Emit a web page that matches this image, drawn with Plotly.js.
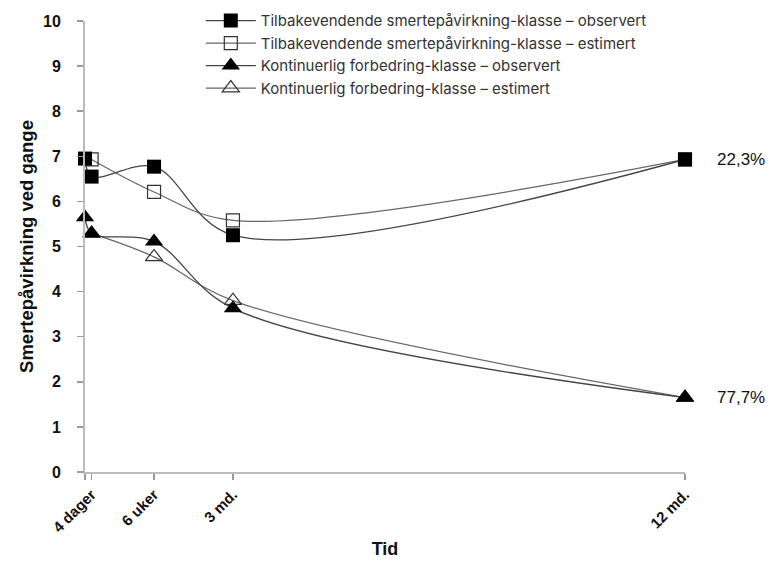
<!DOCTYPE html>
<html>
<head>
<meta charset="utf-8">
<script src="https://cdn.plot.ly/plotly-3.0.1.min.js"></script>
<style>html,body{margin:0;padding:0;background:#fff;}</style>
</head>
<body>
<div id="chart" style="width:783px;height:562px;"></div>
<script>
// Time in days after event
const daysObs = [0, 4, 42, 90, 365];
const daysEst = [4, 42, 90, 365];
const tickDays = [0, 4, 42, 90, 365];
const tickLabels = ['', '4 dager', '6 uker', '3 md.', '12 md.'];

const recurObs = [6.95, 6.55, 6.77, 5.25, 6.93];
const recurEst = [6.93, 6.21, 5.58, 6.93];
const contObs = [5.65, 5.29, 5.11, 3.63, 1.65];
const contEst = [5.29, 4.77, 3.80, 1.65];

const seriesNames = [
  'Tilbakevendende smertepåvirkning-klasse – observert',
  'Tilbakevendende smertepåvirkning-klasse – estimert',
  'Kontinuerlig forbedring-klasse – observert',
  'Kontinuerlig forbedring-klasse – estimert'
];
const endLabels = ['22,3%', '77,7%'];
const yTicks = [0,1,2,3,4,5,6,7,8,9,10];

const traces = [
  {x: daysEst, y: recurEst, name: seriesNames[1], legendrank: 2, type: 'scatter', mode: 'lines+markers',
   line: {shape: 'spline', smoothing: 1, color: '#666', width: 1.2},
   marker: {symbol: 'square-open', size: 13, color: '#333', line: {width: 1.2, color: '#333'}}, cliponaxis: false},
  {x: daysEst, y: contEst, name: seriesNames[3], legendrank: 4, type: 'scatter', mode: 'lines+markers',
   line: {shape: 'spline', smoothing: 1, color: '#666', width: 1.2},
   marker: {symbol: 'triangle-up-open', size: 15, color: '#333', line: {width: 1.2, color: '#333'}}, cliponaxis: false},
  {x: daysObs, y: recurObs, name: seriesNames[0], legendrank: 1, type: 'scatter', mode: 'lines+markers',
   line: {shape: 'spline', smoothing: 1, color: '#444', width: 1.3},
   marker: {symbol: 'square', size: 14, color: '#000'}, cliponaxis: false},
  {x: daysObs, y: contObs, name: seriesNames[2], legendrank: 3, type: 'scatter', mode: 'lines+markers',
   line: {shape: 'spline', smoothing: 1, color: '#444', width: 1.3},
   marker: {symbol: 'triangle-up', size: 16, color: '#000'}, cliponaxis: false}
];

const boldFont = (s) => ({family: 'Liberation Sans, Arial, sans-serif', size: s, color: '#111', weight: 'bold'});

const layout = {
  width: 783, height: 562,
  margin: {l: 85, r: 98, t: 21, b: 90, autoexpand: false},
  paper_bgcolor: '#fff', plot_bgcolor: '#fff',
  showlegend: true,
  legend: {x: 0.193, y: 1.037, xanchor: 'left', yanchor: 'top', bgcolor: 'rgba(0,0,0,0)',
           font: {family: 'Inter, sans-serif', size: 15, color: '#333'}, tracegroupgap: 0, itemwidth: 50},
  xaxis: {range: [0, 365], tickmode: 'array', tickvals: tickDays, ticktext: tickLabels,
          tickangle: -45, tickfont: boldFont(15), automargin: false,
          ticks: 'outside', ticklen: 6, tickwidth: 1.5, tickcolor: '#999',
          showline: true, linecolor: '#bbb', linewidth: 2, showgrid: false, zeroline: false,
          title: {text: 'Tid', font: boldFont(18), standoff: 8}},
  xaxis2: {range: [0, 365], overlaying: 'x', tickmode: 'array', tickvals: tickDays, showticklabels: false,
          ticks: 'inside', ticklen: 6, tickwidth: 1.5, tickcolor: '#999', showline: false, showgrid: false, zeroline: false},
  yaxis: {range: [0, 10], tickmode: 'array', tickvals: yTicks, tickfont: boldFont(16), automargin: false,
          ticks: 'outside', ticklen: 6, tickwidth: 1.5, tickcolor: '#999', ticklabelstandoff: 13,
          showline: true, linecolor: '#bbb', linewidth: 2, showgrid: false, zeroline: false,
          title: {text: 'Smertepåvirkning ved gange', font: boldFont(18.5), standoff: 5}},
  yaxis2: {range: [0, 10], overlaying: 'y', tickmode: 'array', tickvals: yTicks, showticklabels: false,
          ticks: 'inside', ticklen: 6, tickwidth: 1.5, tickcolor: '#999', showline: false, showgrid: false, zeroline: false},
  annotations: [
    {xref: 'paper', yref: 'y', x: 1.05, y: recurObs[recurObs.length-1], text: endLabels[0], showarrow: false, xanchor: 'left',
     font: {family: 'Liberation Sans, Arial, sans-serif', size: 17, color: '#111'}},
    {xref: 'paper', yref: 'y', x: 1.05, y: contObs[contObs.length-1], text: endLabels[1], showarrow: false, xanchor: 'left',
     font: {family: 'Liberation Sans, Arial, sans-serif', size: 17, color: '#111'}}
  ]
};

Plotly.newPlot('chart', traces, layout, {displayModeBar: false, staticPlot: true});
</script>
</body>
</html>
